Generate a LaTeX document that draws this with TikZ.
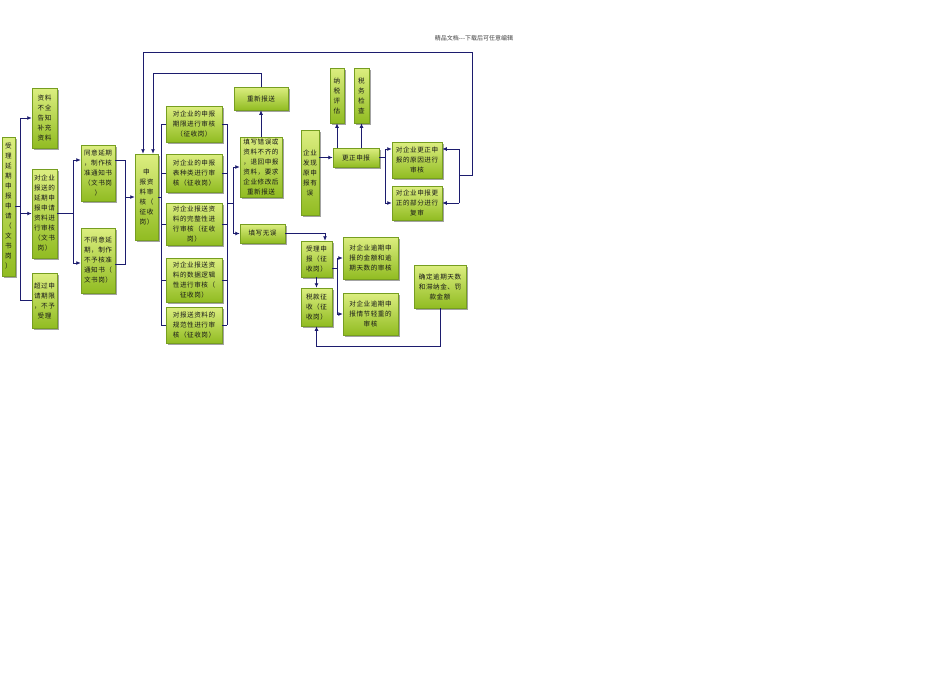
\documentclass[tikz,border=0pt]{standalone}
\usepackage{fontspec}
\newfontfamily\cjk[LetterSpace=8]{Noto Sans CJK SC}
\newfontfamily\cjkh{Noto Sans CJK SC}
\usetikzlibrary{arrows.meta,shadows,calc}
\definecolor{gL}{RGB}{220,238,128}
\definecolor{gD}{RGB}{145,188,34}
\definecolor{gB}{RGB}{118,158,32}
\definecolor{navy}{RGB}{28,28,110}
\tikzset{
  gbox/.style={draw=gB, line width=0.5pt, top color=gL, bottom color=gD,
    drop shadow={shadow xshift=2pt,shadow yshift=-2pt,fill=black!65,opacity=0.55},
    inner sep=0pt, align=center, text=black!90,
    font=\cjk\fontsize{6.6}{10}\selectfont},
  conn/.style={draw=navy, line width=1pt},
  arr/.style={conn, -{Latex[length=4.5pt,width=4pt]}}
}
\newcommand\gb[6]{\node[gbox,minimum width=#4pt,minimum height=#5pt] (#1) at (#2,#3) {#6};}
\begin{document}
\begin{tikzpicture}[x=1pt,y=-1pt]
\useasboundingbox (0,0) rectangle (950,672);
\fill[white] (0,0) rectangle (950,672);
\node[font=\cjkh\fontsize{6}{6}\selectfont, text=black!75] (hdr) at (474,38) {精品文档---下载后可任意编辑};

\gb{B1}{8.5}{206.5}{13}{139}{\fontsize{6.6}{10.5}\selectfont 受\\理\\延\\期\\申\\报\\申\\请\\（\\文\\书\\岗\\）}
\gb{B2}{44.5}{118}{25}{60}{资料\\不全\\告知\\补充\\资料}
\gb{B3}{44.5}{213.5}{25}{89}{对企业\\报送的\\延期申\\报申请\\资料进\\行审核\\（文书\\岗）}
\gb{B4}{44.5}{300.5}{25}{55}{超过申\\请期限\\，不予\\受理}
\gb{B5}{98}{173}{34}{56}{同意延期\\，制作核\\准通知书\\（文书岗\\）}
\gb{B6}{98}{260.5}{34}{65}{不同意延\\期，制作\\不予核准\\通知书（\\文书岗）}
\gb{B7}{146.5}{197}{23}{86}{申\\报资\\料审\\核（\\征收\\岗）}
\gb{B8}{194}{124}{56}{36}{对企业的申报\\期限进行审核\\（征收岗）}
\gb{B9}{194}{173}{56}{38}{对企业的申报\\表种类进行审\\核（征收岗）}
\gb{B10}{194}{224}{56}{42}{对企业报送资\\料的完整性进\\行审核（征收\\岗）}
\gb{B11}{194}{280}{56}{44}{对企业报送资\\料的数据逻辑\\性进行审核（\\征收岗）}
\gb{B12}{194}{325}{56}{36}{对报送资料的\\规范性进行审\\核（征收岗）}
\gb{B13}{261}{98.5}{54}{23}{重新报送}
\gb{B14}{261}{167}{42}{60}{\fontsize{6.6}{9.2}\selectfont 填写错误或\\资料不齐的\\，退回申报\\资料，要求\\企业修改后\\重新报送}
\gb{B15}{262.5}{233.5}{45}{19}{填写无误}
\gb{B16}{310}{172.5}{18}{85}{企业\\发现\\原申\\报有\\误}
\gb{B17}{356}{157.5}{46}{19}{更正申报}
\gb{B18}{337}{95.5}{14}{55}{\fontsize{6.6}{12}\selectfont 纳\\税\\评\\估}
\gb{B19}{361.5}{95.5}{15}{55}{\fontsize{6.6}{12}\selectfont 税\\务\\检\\查}
\gb{B20}{417}{160}{50}{36}{对企业更正申\\报的原因进行\\审核}
\gb{B21}{417}{203}{50}{34}{对企业申报更\\正的部分进行\\复审}
\gb{B22}{316.5}{259}{31}{36}{受理申\\报（征\\收岗）}
\gb{B23}{316.5}{307}{31}{38}{税款征\\收（征\\收岗）}
\gb{B24}{370.5}{258}{55}{42}{对企业逾期申\\报的金额和逾\\期天数的审核}
\gb{B25}{370.5}{314}{55}{42}{对企业逾期申\\报情节轻重的\\审核}
\gb{B26}{440}{286.5}{52}{43}{确定逾期天数\\和滞纳金、罚\\款金额}

% left trunk
\coordinate (t1) at (20,0);
\draw[conn] (B1.east) -- (B1.east -| t1);
\draw[conn] (t1 |- B2.west) -- (t1 |- B4.west);
\draw[arr] (t1 |- B2.west) -- (B2.west);
\draw[arr] (t1 |- B3.west) -- (B3.west);
\draw[conn] (t1 |- B4.west) -- (B4.west);

% B3 -> B5/B6
\coordinate (t2a) at (73,160); \coordinate (t2b) at (73,263);
\draw[conn] (B3.east) -- (B3.east -| t2a);
\draw[conn] (t2a) -- (t2b);
\draw[arr] (t2a) -- (t2a -| B5.west);
\draw[arr] (t2b) -- (t2b -| B6.west);

% B5/B6 -> B7
\coordinate (t3a) at (125,160); \coordinate (t3b) at (125,264);
\draw[conn] (t3a -| B5.east) -- (t3a) -- (t3b) -- (t3b -| B6.east);
\draw[arr] (t3a |- B7.west) -- (B7.west);

% B7 -> B8..B12
\coordinate (t4) at (161,0);
\draw[conn] (B7.east) -- (B7.east -| t4);
\draw[conn] (t4 |- B8.west) -- (t4 |- B12.west);
\foreach \b in {B8,B9,B10,B11,B12} \draw[conn] (t4 |- \b.west) -- (\b.west);

% B8..B12 -> B14/B15
\coordinate (t5) at (227,0);
\foreach \b in {B8,B9,B10,B11,B12} \draw[conn] (\b.east) -- (t5 |- \b.east);
\draw[conn] (t5 |- B8.east) -- (t5 |- B12.east);
\coordinate (t6) at (233,203);
\draw[conn] (t5 |- t6) -- (t6);
\draw[conn] (t6 |- B14.west) -- (t6 |- B15.west);
\draw[arr] (t6 |- B14.west) -- (B14.west);
\draw[arr] (t6 |- B15.west) -- (B15.west);

% B14 -> B13 -> B7
\draw[arr] (B14.north) -- (B13.south);
\coordinate (r1) at (261,73); \coordinate (r2) at (153,73);
\draw[arr] (B13.north) -- (r1) -- (r2) -- (r2 |- B7.north);

% B15 -> B22
\coordinate (q) at (325,233.5);
\draw[arr] (B15.east) -- (q) -- (q |- B22.north);

% B16 -> B17 -> B18/B19
\draw[arr] (B16.east |- B17.west) -- (B17.west);
\draw[arr] (B17.north -| B18.south) -- (B18.south);
\draw[arr] (B17.north -| B19.south) -- (B19.south);

% B17 -> B20/B21
\coordinate (u1) at (385,149); \coordinate (u2) at (385,203);
\draw[conn] (B17.east) -- (B17.east -| u1);
\draw[conn] (u1) -- (u2);
\draw[arr] (u1) -- (u1 -| B20.west);
\draw[arr] (u2) -- (B21.west);

% right trunk back to B7
\coordinate (v1) at (459,149); \coordinate (v2) at (459,203);
\draw[conn] (v1) -- (v2);
\draw[arr] (v1) -- (v1 -| B20.east);
\draw[arr] (v2) -- (B21.east);
\coordinate (w1) at (472,175); \coordinate (w2) at (472,52); \coordinate (w3) at (143,52);
\draw[arr] (w1 -| v1) -- (w1) -- (w2) -- (w3) -- (w3 |- B7.north);

% B22 -> B23, B24, B25
\draw[arr] (B22.south) -- (B23.north);
\coordinate (s0) at (337,268); \coordinate (s1) at (337,258); \coordinate (s2) at (337,314);
\draw[conn] (s0 -| B22.east) -- (s0);
\draw[conn] (s1) -- (s2);
\draw[arr] (s1) -- (B24.west);
\draw[arr] (s2) -- (B25.west);

% B26 -> B23
\coordinate (z) at (440,346);
\draw[arr] (B26.south) -- (z) -- (z -| B23.south) -- (B23.south);
\end{tikzpicture}
\end{document}
